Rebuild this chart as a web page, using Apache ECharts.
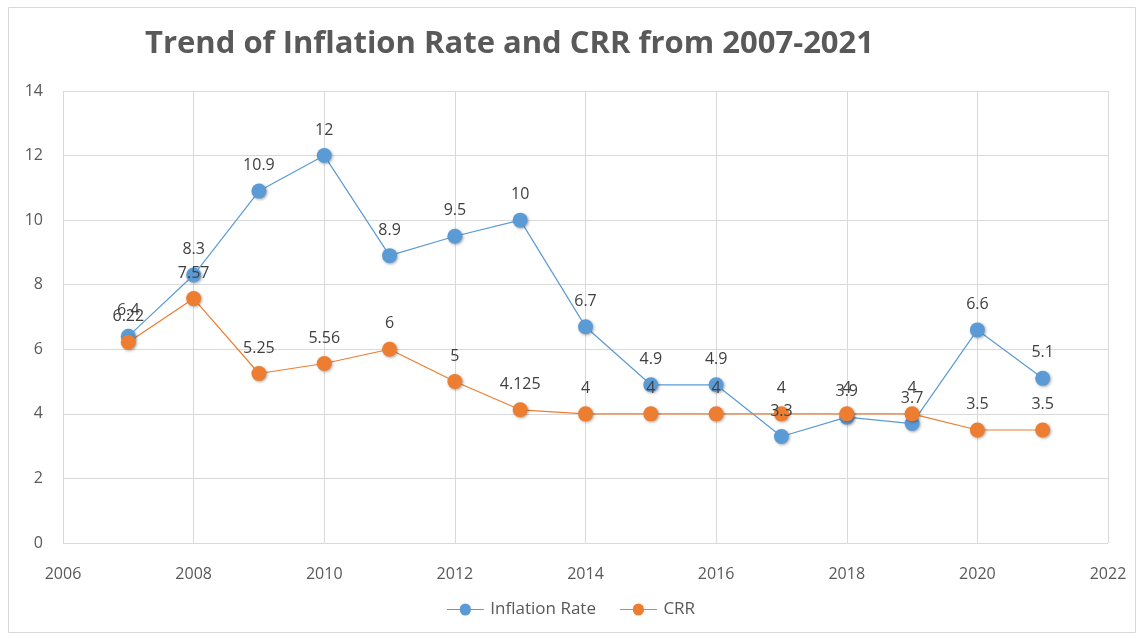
<!DOCTYPE html>
<html>
<head>
<meta charset="utf-8">
<script src="https://cdn.jsdelivr.net/npm/echarts@6/dist/echarts.min.js"></script>
<style>
  html, body { margin: 0; padding: 0; background: #fff; }
  #chart { width: 1142px; height: 639px; }
</style>
</head>
<body>
<div id="chart"></div>
<script>
// Years and the two yearly series
const years = [2007, 2008, 2009, 2010, 2011, 2012, 2013, 2014, 2015, 2016, 2017, 2018, 2019, 2020, 2021];
const inflationRate = [6.4, 8.3, 10.9, 12, 8.9, 9.5, 10, 6.7, 4.9, 4.9, 3.3, 3.9, 3.7, 6.6, 5.1];
const crr = [6.22, 7.57, 5.25, 5.56, 6, 5, 4.125, 4, 4, 4, 4, 4, 4, 3.5, 3.5];

const titleText = 'Trend of Inflation Rate and CRR from 2007-2021';
const seriesNames = ['Inflation Rate', 'CRR'];
const colors = ['#5B9BD5', '#ED7D31'];

const FONT = '"Open Sans", "Liberation Sans", sans-serif';

function pairs(values) {
  return years.map((y, i) => [y, values[i]]);
}

function lineSeries(name, values, color) {
  return {
    name: name,
    type: 'line',
    data: pairs(values),
    symbol: 'circle',
    symbolSize: 15,
    lineStyle: { color: color, width: 1.2 },
    itemStyle: {
      color: color,
      shadowColor: 'rgba(0,0,0,0.35)',
      shadowBlur: 3,
      shadowOffsetX: 1,
      shadowOffsetY: 1
    },
    label: {
      show: true,
      position: 'top',
      distance: 10,
      color: '#404040',
      fontFamily: FONT,
      fontSize: 16,
      formatter: p => String(p.value[1])
    },
    emphasis: { disabled: true },
    animation: false
  };
}

const chart = echarts.init(document.getElementById('chart'));
chart.setOption({
  backgroundColor: '#fff',
  title: {
    text: titleText,
    left: 140,
    top: 24,
    textStyle: {
      fontFamily: FONT,
      fontWeight: 'bold',
      fontSize: 31,
      color: '#595959'
    }
  },
  graphic: [{
    type: 'rect',
    shape: { x: 8.5, y: 7.5, width: 1127, height: 625 },
    style: { fill: 'none', stroke: '#d9d9d9', lineWidth: 1 },
    silent: true,
    z: -1
  }],
  legend: {
    bottom: 16,
    left: 'center',
    itemWidth: 40,
    itemHeight: 12,
    itemGap: 24,
    icon: 'path://M0,5.5 L14,5.5 A6,6 0 0 1 26,5.5 L40,5.5 L40,6.5 L26,6.5 A6,6 0 0 1 14,6.5 L0,6.5 Z',
    data: seriesNames,
    textStyle: { fontFamily: FONT, fontSize: 17, color: '#595959' }
  },
  grid: { left: 63, right: 34, top: 91, bottom: 96 },
  xAxis: {
    type: 'value',
    min: 2006,
    max: 2022,
    interval: 2,
    axisLine: { show: false },
    axisTick: { show: false },
    splitLine: { show: true, lineStyle: { color: '#d9d9d9', width: 1 } },
    axisLabel: {
      margin: 23,
      color: '#595959',
      fontFamily: FONT,
      fontSize: 16,
      formatter: v => String(v)
    }
  },
  yAxis: {
    type: 'value',
    min: 0,
    max: 14,
    interval: 2,
    axisLine: { show: false },
    axisTick: { show: false },
    splitLine: { show: true, lineStyle: { color: '#d9d9d9', width: 1 } },
    axisLabel: {
      margin: 20,
      color: '#595959',
      fontFamily: FONT,
      fontSize: 16
    }
  },
  series: [
    lineSeries(seriesNames[0], inflationRate, colors[0]),
    lineSeries(seriesNames[1], crr, colors[1])
  ]
});
</script>
</body>
</html>
